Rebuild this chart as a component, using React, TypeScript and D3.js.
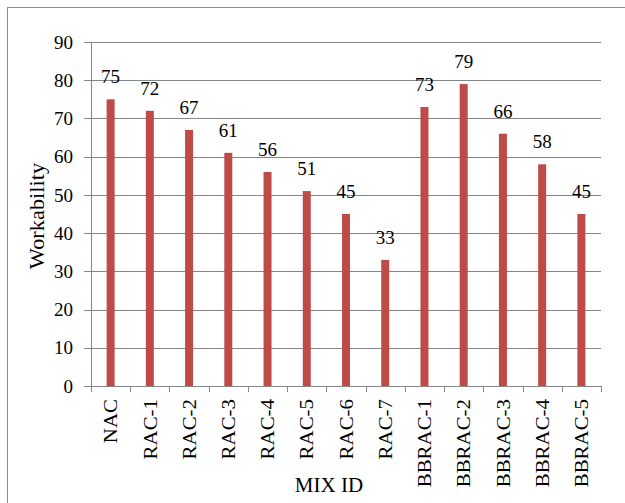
import React from "react";
import * as d3 from "d3";

const categories = ["NAC", "RAC-1", "RAC-2", "RAC-3", "RAC-4", "RAC-5", "RAC-6", "RAC-7", "BBRAC-1", "BBRAC-2", "BBRAC-3", "BBRAC-4", "BBRAC-5"];
const workability = [75, 72, 67, 61, 56, 51, 45, 33, 73, 79, 66, 58, 45];
const yTicks = [0, 10, 20, 30, 40, 50, 60, 70, 80, 90];

const W = 625;
const H = 503;
const left = 91;
const right = 601;
const top = 42;
const bottom = 386;
const font = "'Liberation Serif', 'Times New Roman', serif";

export default function App() {
  const x = d3.scaleBand<string>().domain(categories).range([left, right]).padding(0);
  const y = d3.scaleLinear().domain([0, 90]).range([bottom, top]);
  const barW = 8;
  const gridColor = "#868686";
  const ticksX = categories.map((c) => x(c)!).concat([right]);

  return (
    <svg width={W} height={H} style={{ position: "absolute", left: 0, top: 0, background: "#fff" }}>
      <rect x={7.5} y={7.5} width={W} height={H} fill="#fff" stroke="#8c8c8c" strokeWidth={1} />
      {yTicks.map((t) => (
        <g key={t}>
          <line x1={left - 7} x2={right} y1={Math.round(y(t)) + 0.5} y2={Math.round(y(t)) + 0.5} stroke={gridColor} strokeWidth={1} />
          <text x={73} y={y(t)} dy="0.35em" textAnchor="end" fontFamily={font} fontSize={19} fill="#000">{t}</text>
        </g>
      ))}
      <line x1={left + 0.5} x2={left + 0.5} y1={top} y2={bottom} stroke={gridColor} />
      {ticksX.map((tx, i) => (
        <line key={i} x1={Math.round(tx) + 0.5} x2={Math.round(tx) + 0.5} y1={bottom} y2={bottom + 6} stroke={gridColor} />
      ))}
      {categories.map((c, i) => {
        const cx = x(c)! + x.bandwidth() / 2;
        const v = workability[i];
        return (
          <g key={c}>
            <rect x={cx - barW / 2} y={y(v)} width={barW} height={bottom - y(v)} fill="#BE4B48" />
            <text x={cx} y={y(v) - 16} textAnchor="middle" fontFamily={font} fontSize={19} fill="#000">{v}</text>
            <text transform={`translate(${cx},${bottom + 13}) rotate(-90) scale(1.1,1)`} dy="0.35em" textAnchor="end" fontFamily={font} fontSize={19} fill="#000">{c}</text>
          </g>
        );
      })}
      <text transform={`translate(37,${(top + bottom) / 2 + 2}) rotate(-90) scale(1.12,1)`} dy="0.35em" textAnchor="middle" fontFamily={font} fontSize={20} fill="#000">Workability</text>
      <text x={329} y={492} textAnchor="middle" fontFamily={font} fontSize={20} fill="#000" transform="translate(329,0) scale(1.05,1) translate(-329,0)">MIX ID</text>
    </svg>
  );
}
